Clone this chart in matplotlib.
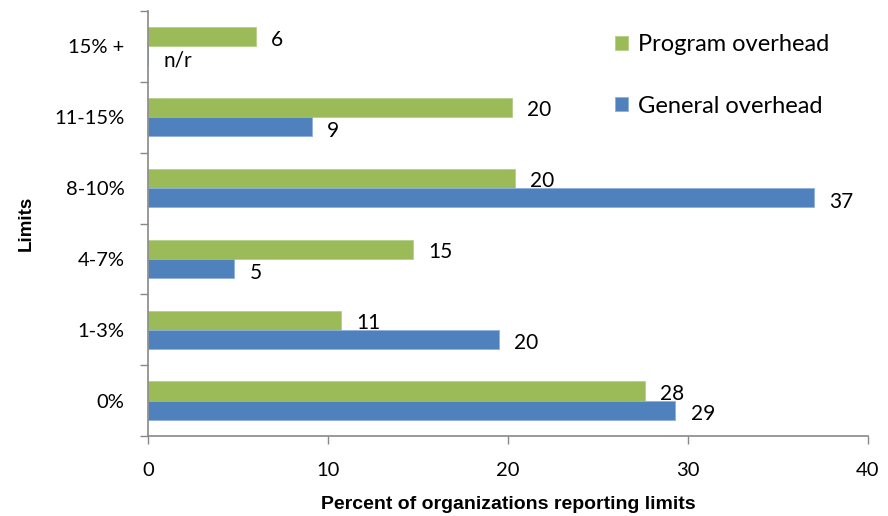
import numpy as np
import matplotlib.pyplot as plt

# data (bar lengths, labels are the rounded values)
categories = ["0%", "1-3%", "4-7%", "8-10%", "11-15%", "15% +"]
program_overhead = [27.6, 10.7, 14.7, 20.4, 20.2, 6.0]
general_overhead = [29.3, 19.5, 4.8, 37.0, 9.1, np.nan]
program_labels = ["28", "11", "15", "20", "20", "6"]
general_labels = ["29", "20", "5", "37", "9", "n/r"]

GREEN = "#9BBB59"
BLUE = "#4F81BD"
FONT = "Lato"

fig = plt.figure(figsize=(8.88, 5.16), dpi=100)
ax = fig.add_axes([148 / 888, 80 / 516, 720 / 888, 425 / 516])

y = np.arange(len(categories))
h = 0.27
gen = np.nan_to_num(general_overhead)
ax.barh(y + h / 2, program_overhead, height=h, color=GREEN,
        edgecolor="#b5d08a", linewidth=0.6, label="Program overhead")
ax.barh(y - h / 2, gen, height=h, color=BLUE,
        edgecolor="#8db0dc", linewidth=0.6, label="General overhead")

# data labels
for yi, v, lab in zip(y, program_overhead, program_labels):
    ax.annotate(lab, (v, yi + h / 2), xytext=(11, -2), textcoords="offset points",
                ha="left", va="center", fontsize=15, family=FONT)
for yi, v, lab in zip(y, gen, general_labels):
    ax.annotate(lab, (v, yi - h / 2), xytext=(11, -3), textcoords="offset points",
                ha="left", va="center", fontsize=15, family=FONT)

ax.set_xlim(0, 40)
ax.set_ylim(-0.5, len(categories) - 0.5)
ax.set_xticks([0, 10, 20, 30, 40])
ax.set_yticks(y)
ax.set_yticklabels(categories)
ax.set_yticks(np.arange(-0.5, len(categories)), minor=True)

for lbl in ax.get_xticklabels() + ax.get_yticklabels():
    lbl.set_family(FONT)
    lbl.set_fontsize(14.5)

ax.tick_params(axis="y", which="major", length=0, pad=17)
ax.tick_params(axis="y", which="minor", length=6, color="#888888", width=1)
ax.tick_params(axis="x", which="major", length=6, color="#888888", width=1, pad=13)

for side in ["top", "right"]:
    ax.spines[side].set_visible(False)
for side in ["left", "bottom"]:
    ax.spines[side].set_color("#888888")
    ax.spines[side].set_linewidth(1.2)

ax.set_xlabel("Percent of organizations reporting limits", fontsize=14,
              fontweight="bold", family="Liberation Sans", labelpad=12)
ax.set_ylabel("Limits", fontsize=13.5, fontweight="bold",
              family="Liberation Sans", labelpad=14)

leg = ax.legend(loc="upper right", bbox_to_anchor=(0.975, 0.995), frameon=False,
                prop={"family": FONT, "size": 17}, handlelength=0.55,
                handleheight=0.55, handletextpad=0.4, labelspacing=1.7)

fig.savefig("out.png", dpi=100)
